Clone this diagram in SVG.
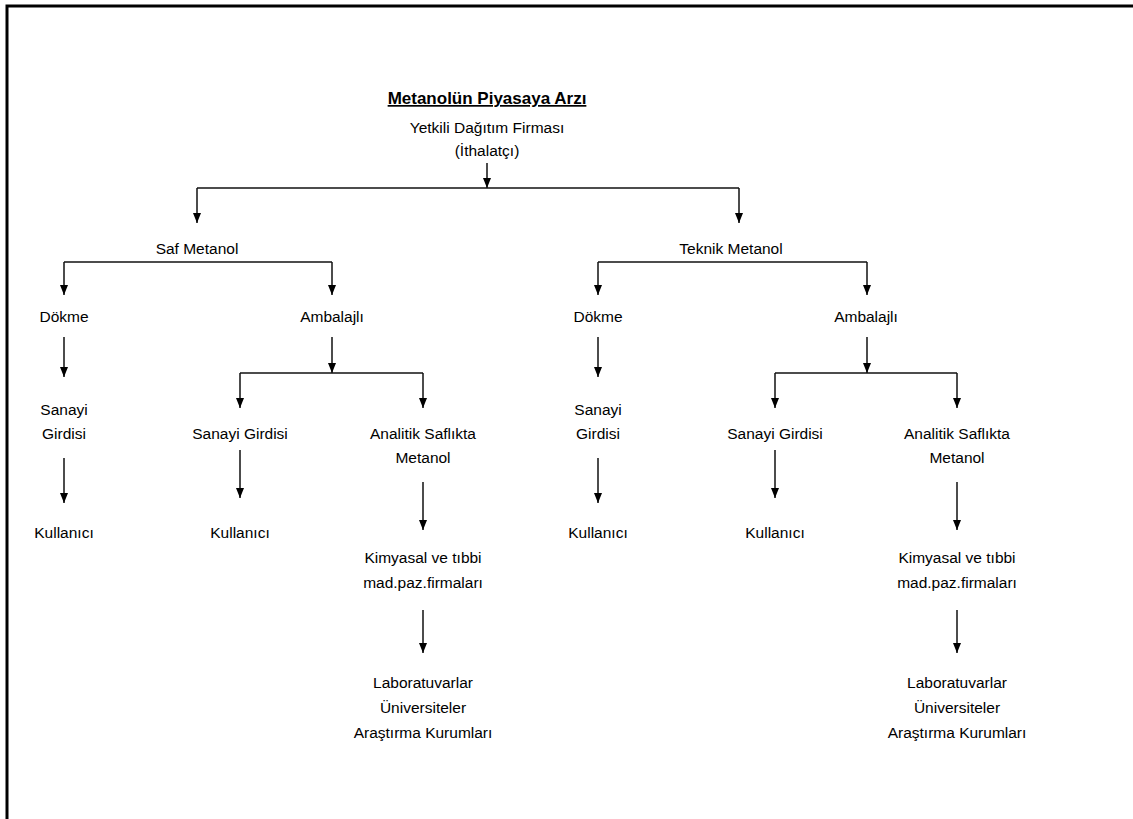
<svg xmlns="http://www.w3.org/2000/svg" width="1133" height="819" viewBox="0 0 1133 819">
<style>
text{font-family:"Liberation Sans",Arial,sans-serif;font-size:15.5px;fill:#000;text-anchor:middle}
.t{font-weight:bold;font-size:17px;text-decoration:underline}
.c{fill:none;stroke:#111;stroke-width:1.5}
.a{marker-end:url(#ah)}
</style>
<defs>
<marker id="ah" viewBox="0 0 10 8" refX="10" refY="4" markerWidth="10" markerHeight="8" markerUnits="userSpaceOnUse" orient="auto">
<path d="M0,0 L10,4 L0,8 z" fill="#000"/>
</marker>
</defs>
<rect x="7" y="6" width="1140" height="830" fill="#fff" stroke="#000" stroke-width="3"/>
<g id="connectors">
<path class="c a" d="M487,163 V188"/>
<path class="c" d="M197,188 H739"/>
<path class="c a" d="M197,188 V223"/>
<path class="c a" d="M739,188 V223"/>
<path class="c" d="M64,262 H332"/>
<path class="c a" d="M64,262 V295"/>
<path class="c a" d="M332,262 V295"/>
<path class="c a" d="M64,337 V377"/>
<path class="c a" d="M332,337 V373"/>
<path class="c" d="M240,373 H423"/>
<path class="c a" d="M240,373 V408"/>
<path class="c a" d="M423,373 V408"/>
<path class="c a" d="M64,458 V503"/>
<path class="c a" d="M240,450 V498"/>
<path class="c a" d="M423,482 V530"/>
<path class="c a" d="M423,610 V653"/>
<path class="c" d="M598,262 H867"/>
<path class="c a" d="M598,262 V295"/>
<path class="c a" d="M867,262 V295"/>
<path class="c a" d="M598,337 V377"/>
<path class="c a" d="M867,337 V373"/>
<path class="c" d="M775,373 H957"/>
<path class="c a" d="M775,373 V408"/>
<path class="c a" d="M957,373 V408"/>
<path class="c a" d="M598,458 V503"/>
<path class="c a" d="M775,450 V498"/>
<path class="c a" d="M957,482 V530"/>
<path class="c a" d="M957,610 V653"/>
</g>
<g id="root">
<text class="t" x="487" y="104">Metanolün Piyasaya Arzı</text>
<text x="487" y="133">Yetkili Dağıtım Firması</text>
<text x="487" y="156">(İthalatçı)</text>
</g>
<g id="saf"><text x="197" y="254">Saf Metanol</text></g>
<g id="teknik"><text x="731" y="254">Teknik Metanol</text></g>
<g id="saf-dokme"><text x="64" y="322">Dökme</text></g>
<g id="saf-ambalajli"><text x="332" y="322">Ambalajlı</text></g>
<g id="tek-dokme"><text x="598" y="322">Dökme</text></g>
<g id="tek-ambalajli"><text x="866" y="322">Ambalajlı</text></g>
<g id="saf-sanayi1"><text x="64" y="415">Sanayi</text><text x="64" y="439">Girdisi</text></g>
<g id="saf-sanayi2"><text x="240" y="439">Sanayi Girdisi</text></g>
<g id="saf-analitik"><text x="423" y="439">Analitik Saflıkta</text><text x="423" y="463">Metanol</text></g>
<g id="tek-sanayi1"><text x="598" y="415">Sanayi</text><text x="598" y="439">Girdisi</text></g>
<g id="tek-sanayi2"><text x="775" y="439">Sanayi Girdisi</text></g>
<g id="tek-analitik"><text x="957" y="439">Analitik Saflıkta</text><text x="957" y="463">Metanol</text></g>
<g id="saf-kul1"><text x="64" y="538">Kullanıcı</text></g>
<g id="saf-kul2"><text x="240" y="538">Kullanıcı</text></g>
<g id="tek-kul1"><text x="598" y="538">Kullanıcı</text></g>
<g id="tek-kul2"><text x="775" y="538">Kullanıcı</text></g>
<g id="saf-kimyasal"><text x="423" y="563">Kimyasal ve tıbbi</text><text x="423" y="588">mad.paz.firmaları</text></g>
<g id="tek-kimyasal"><text x="957" y="563">Kimyasal ve tıbbi</text><text x="957" y="588">mad.paz.firmaları</text></g>
<g id="saf-lab"><text x="423" y="688">Laboratuvarlar</text><text x="423" y="713">Üniversiteler</text><text x="423" y="738">Araştırma Kurumları</text></g>
<g id="tek-lab"><text x="957" y="688">Laboratuvarlar</text><text x="957" y="713">Üniversiteler</text><text x="957" y="738">Araştırma Kurumları</text></g>
</svg>
